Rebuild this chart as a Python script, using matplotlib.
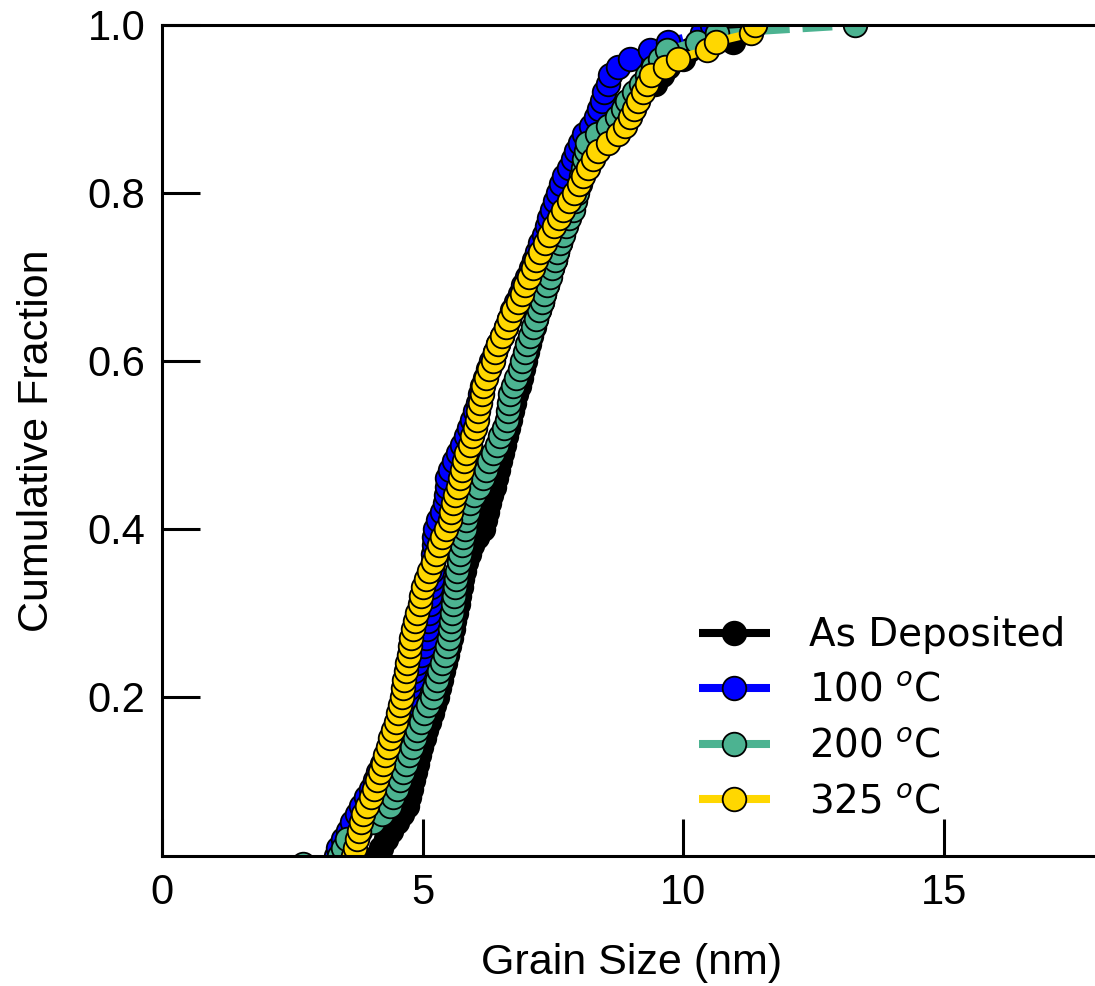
import numpy as np
import matplotlib
matplotlib.use("Agg")
import matplotlib.pyplot as plt

# Grain sizes (nm), sorted
as_deposited = [4.00, 4.12, 4.20, 4.30, 4.40, 4.50, 4.60, 4.70, 4.74, 4.78,
                4.82, 4.86, 4.89, 4.93, 4.97, 5.02, 5.07, 5.12, 5.17, 5.22,
                5.27, 5.31, 5.35, 5.39, 5.43, 5.47, 5.51, 5.55, 5.58, 5.61,
                5.64, 5.67, 5.70, 5.73, 5.76, 5.79, 5.83, 5.88, 5.95, 6.05,
                6.15, 6.20, 6.24, 6.28, 6.32, 6.36, 6.40, 6.44, 6.48, 6.52,
                6.56, 6.60, 6.64, 6.68, 6.72, 6.76, 6.80, 6.84, 6.88, 6.92,
                6.96, 7.00, 7.04, 7.08, 7.13, 7.18, 7.23, 7.28, 7.33, 7.38,
                7.43, 7.48, 7.53, 7.58, 7.63, 7.68, 7.73, 7.78, 7.83, 7.88,
                7.93, 7.98, 8.03, 8.08, 8.14, 8.22, 8.32, 8.42, 8.52, 8.62,
                8.75, 9.00, 9.20, 9.45, 9.60, 9.70, 10.00, 10.10, 10.95, 11.00,
                11.10]

anneal_100 = [3.30, 3.34, 3.38, 3.47, 3.56, 3.65, 3.74, 3.82, 3.92, 4.00,
              4.08, 4.15, 4.22, 4.29, 4.36, 4.42, 4.48, 4.54, 4.60, 4.65,
              4.70, 4.74, 4.79, 4.84, 4.90, 4.96, 5.02, 5.06, 5.09, 5.11,
              5.13, 5.14, 5.15, 5.16, 5.17, 5.18, 5.19, 5.20, 5.21, 5.22,
              5.23, 5.30, 5.38, 5.43, 5.45, 5.46, 5.47, 5.52, 5.60, 5.68,
              5.76, 5.83, 5.89, 5.95, 6.01, 6.06, 6.10, 6.14, 6.20, 6.26,
              6.32, 6.38, 6.45, 6.52, 6.59, 6.65, 6.72, 6.79, 6.86, 6.93,
              7.00, 7.07, 7.13, 7.19, 7.25, 7.32, 7.38, 7.43, 7.48, 7.53,
              7.59, 7.65, 7.72, 7.80, 7.88, 7.95, 8.02, 8.10, 8.22, 8.32,
              8.38, 8.44, 8.48, 8.55, 8.60, 8.75, 8.98, 9.36, 9.70, 10.36,
              10.55]

anneal_200 = [2.70, 3.40, 3.48, 3.55, 3.80, 4.05, 4.22, 4.37, 4.43, 4.50,
              4.56, 4.62, 4.68, 4.74, 4.80, 4.85, 4.90, 4.96, 5.03, 5.10,
              5.17, 5.22, 5.27, 5.32, 5.37, 5.43, 5.47, 5.50, 5.52, 5.54,
              5.56, 5.58, 5.60, 5.62, 5.64, 5.66, 5.69, 5.72, 5.75, 5.78,
              5.81, 5.84, 5.87, 5.91, 5.98, 6.08, 6.15, 6.22, 6.28, 6.35,
              6.42, 6.49, 6.56, 6.62, 6.64, 6.66, 6.68, 6.74, 6.80, 6.86,
              6.91, 6.96, 7.01, 7.06, 7.12, 7.17, 7.23, 7.28, 7.33, 7.39,
              7.44, 7.49, 7.54, 7.58, 7.63, 7.69, 7.75, 7.81, 7.88, 7.93,
              7.97, 8.01, 8.04, 8.07, 8.10, 8.13, 8.16, 8.35, 8.55, 8.72,
              8.85, 8.92, 9.05, 9.18, 9.30, 9.42, 9.55, 9.69, 10.26, 10.65,
              13.30]

anneal_325 = [3.60, 3.66, 3.70, 3.74, 3.78, 3.82, 3.86, 3.93, 4.00, 4.06,
              4.12, 4.18, 4.23, 4.28, 4.33, 4.38, 4.43, 4.48, 4.53, 4.57,
              4.60, 4.63, 4.65, 4.68, 4.70, 4.73, 4.75, 4.78, 4.82, 4.86,
              4.90, 4.94, 4.97, 5.01, 5.07, 5.13, 5.19, 5.25, 5.31, 5.37,
              5.44, 5.52, 5.55, 5.59, 5.63, 5.67, 5.71, 5.75, 5.79, 5.84,
              5.90, 5.95, 6.00, 6.04, 6.07, 6.10, 6.13, 6.16, 6.22, 6.28,
              6.34, 6.39, 6.45, 6.52, 6.59, 6.66, 6.74, 6.83, 6.90, 6.97,
              7.04, 7.11, 7.18, 7.25, 7.34, 7.43, 7.52, 7.61, 7.70, 7.80,
              7.90, 7.99, 8.08, 8.17, 8.26, 8.36, 8.55, 8.75, 8.88, 8.98,
              9.06, 9.13, 9.22, 9.30, 9.38, 9.65, 9.90, 10.45, 10.62, 11.30,
              11.38]

labels = ["As Deposited", "100 $^{o}$C", "200 $^{o}$C", "325 $^{o}$C"]
colors = ["#000000", "#0000FF", "#4CB391", "#FFD700"]
series = [as_deposited, anneal_100, anneal_200, anneal_325]

x_ticks = [0, 5, 10, 15]
y_ticks = [0.2, 0.4, 0.6, 0.8, 1.0]

W, H = 1095, 986
fig = plt.figure(figsize=(W / 100, H / 100), dpi=100)
ax = fig.add_axes([162 / W, (H - 856) / H, 18 * 52.13 / W, (856 - 25) / H])

for vals, lab, col in zip(series, labels, colors):
    xs = np.sort(np.asarray(vals))
    ys = np.linspace(0, 1, len(xs))  # empirical cumulative fraction
    ax.plot(xs, ys, linestyle="--", color=col, lw=5.8, marker="o",
            markersize=17, markerfacecolor=col, markeredgecolor="black",
            markeredgewidth=1.3, label=lab)

ax.set_xlim(0, 18)
ax.set_ylim(0.01, 1.0)
ax.set_xticks(x_ticks)
ax.set_yticks(y_ticks)
ax.set_xticklabels([str(t) for t in x_ticks])
ax.set_yticklabels(["%.1f" % t for t in y_ticks])

for lbl in ax.get_xticklabels() + ax.get_yticklabels():
    lbl.set_fontfamily("Liberation Sans")
    lbl.set_fontsize(30)

ax.tick_params(axis="both", direction="in", length=27, width=2.2, pad=12,
               top=False, right=False)
for sp in ax.spines.values():
    sp.set_linewidth(2.2)

ax.set_xlabel("Grain Size (nm)", fontfamily="Liberation Sans", fontsize=31,
              labelpad=22)
ax.set_ylabel("Cumulative Fraction", fontfamily="Liberation Sans", fontsize=31,
              labelpad=22)

leg = ax.legend(loc="lower right", bbox_to_anchor=(1065 / W, (H - 821) / H),
                bbox_transform=fig.transFigure, frameon=False,
                prop={"family": "DejaVu Sans", "size": 28}, numpoints=1,
                handlelength=1.83, handletextpad=1.0, labelspacing=0.45,
                borderpad=0, borderaxespad=0)

fig.savefig("out.png", dpi=100)
